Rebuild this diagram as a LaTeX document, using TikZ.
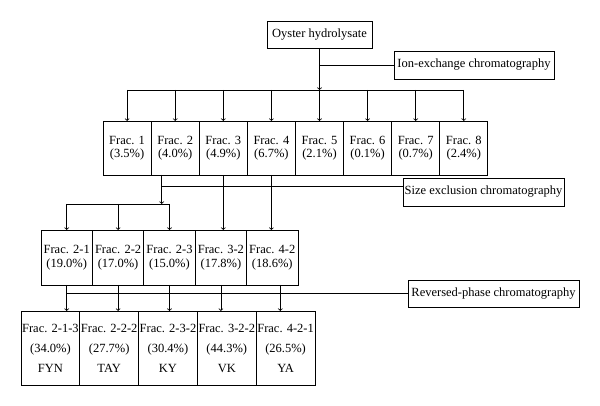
\documentclass[tikz,border=0pt]{standalone}
\usepackage{fontspec}
\setmainfont{Liberation Serif}
\usetikzlibrary{positioning}

\begin{document}
\begin{tikzpicture}[x=1pt, y=-1pt, line width=0.8pt, node distance=0pt,
                    font=\fontsize{12.5}{13.5}\selectfont,
                    box/.style={draw, inner sep=0pt, outer sep=0pt, align=center},
                    frac/.style={box, minimum width=48.1pt, minimum height=54pt},
                    subfrac/.style={box, minimum width=51.4pt, minimum height=55pt},
                    pep/.style={box, minimum width=58.8pt, minimum height=74pt,
                                font=\fontsize{12.5}{20}\selectfont},
                    method/.style={box, minimum height=28pt}]
  \useasboundingbox (0,0) rectangle (600,406);
  % starting material and first separation
  \node[box, minimum width=105pt, minimum height=27pt] (oyster) at (319.5,34.5) {Oyster hydrolysate};
  \node[method, minimum width=160pt] (ion) at (474,65) {Ion-exchange chromatography};
  \node[frac] (f1) at (127.1,148) {Frac. 1\\(3.5\%)};
  \node[frac, right=of f1] (f2) {Frac. 2\\(4.0\%)};
  \node[frac, right=of f2] (f3) {Frac. 3\\(4.9\%)};
  \node[frac, right=of f3] (f4) {Frac. 4\\(6.7\%)};
  \node[frac, right=of f4] (f5) {Frac. 5\\(2.1\%)};
  \node[frac, right=of f5] (f6) {Frac. 6\\(0.1\%)};
  \node[frac, right=of f6] (f7) {Frac. 7\\(0.7\%)};
  \node[frac, right=of f7] (f8) {Frac. 8\\(2.4\%)};
  % second separation
  \node[method, minimum width=161pt] (sec) at (483.5,192) {Size exclusion chromatography};
  \node[subfrac] (f21) at (66.7,257.5) {Frac. 2-1\\(19.0\%)};
  \node[subfrac, right=of f21] (f22) {Frac. 2-2\\(17.0\%)};
  \node[subfrac, right=of f22] (f23) {Frac. 2-3\\(15.0\%)};
  \node[subfrac, right=of f23] (f32) {Frac. 3-2\\(17.8\%)};
  \node[subfrac, right=of f32] (f42) {Frac. 4-2\\(18.6\%)};
  % third separation
  \node[method, minimum width=171pt, minimum height=27pt] (rp) at (493.5,293.5) {Reversed-phase chromatography};
  \node[pep] (f213) at (50.4,348) {Frac. 2-1-3\\(34.0\%)\\FYN};
  \node[pep, right=of f213] (f222) {Frac. 2-2-2\\(27.7\%)\\TAY};
  \node[pep, right=of f222] (f232) {Frac. 2-3-2\\(30.4\%)\\KY};
  \node[pep, right=of f232] (f322) {Frac. 3-2-2\\(44.3\%)\\VK};
  \node[pep, right=of f322] (f421) {Frac. 4-2-1\\(26.5\%)\\YA};

  \coordinate (bus1) at (0,90);
  \coordinate (bus2) at (0,204);
  \coordinate (s2) at ([xshift=-13.5pt]f2.south);
  \coordinate (s42) at ([xshift=8pt]f42.south);

  \draw[->] (oyster) -- (oyster |- bus1);
  \draw (oyster |- ion) -- (ion);
  \draw (f1 |- bus1) -- (f8 |- bus1);
  \draw[->] (f1 |- bus1) -- (f1);
  \draw[->] (f2 |- bus1) -- (f2);
  \draw[->] (f3 |- bus1) -- (f3);
  \draw[->] (f4 |- bus1) -- (f4);
  \draw[->] (f5 |- bus1) -- (f5);
  \draw[->] (f6 |- bus1) -- (f6);
  \draw[->] (f7 |- bus1) -- (f7);
  \draw[->] (f8 |- bus1) -- (f8);

  \draw (s2) |- ([yshift=6pt]sec.west);
  \draw[->] (s2) -- (s2 |- bus2);
  \draw (f21 |- bus2) -- (f23 |- bus2);
  \draw[->] (f21 |- bus2) -- (f21);
  \draw[->] (f22 |- bus2) -- (f22);
  \draw[->] (f23 |- bus2) -- (f23);
  \draw[->] (f3) -- (f3 |- f32.north);
  \draw[->] (f4) -- (f4 |- f42.north);

  \draw (f21 |- rp) -- (rp);
  \draw[->] (f21) -- (f21 |- f213.north);
  \draw[->] (f22) -- (f22 |- f222.north);
  \draw[->] (f23) -- (f23 |- f232.north);
  \draw[->] (f32) -- (f32 |- f322.north);
  \draw[->] (s42) -- (s42 |- f421.north);
\end{tikzpicture}
\end{document}
